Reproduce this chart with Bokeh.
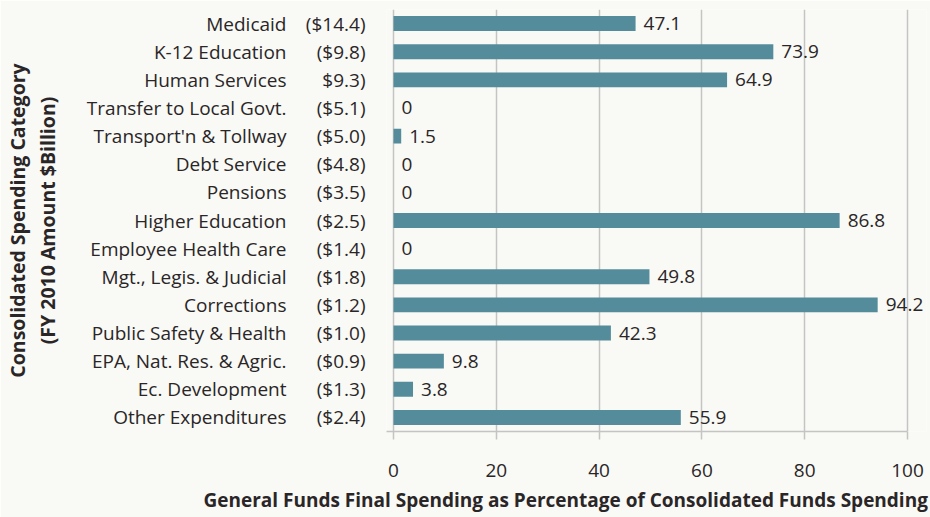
from bokeh.plotting import figure
from bokeh.models import (ColumnDataSource, LabelSet, FactorRange, Range1d, FixedTicker,
                          CategoricalAxis, Title)
from bokeh.core.properties import value
from bokeh.embed import file_html
from bokeh.resources import INLINE

categories = ["Medicaid", "K-12 Education", "Human Services", "Transfer to Local Govt.",
              "Transport'n & Tollway", "Debt Service", "Pensions", "Higher Education",
              "Employee Health Care", "Mgt., Legis. & Judicial", "Corrections",
              "Public Safety & Health", "EPA, Nat. Res. & Agric.", "Ec. Development",
              "Other Expenditures"]
amount_labels = ["($14.4)", "($9.8)", "$9.3)", "($5.1)", "($5.0)", "($4.8)", "($3.5)",
                 "($2.5)", "($1.4)", "($1.8)", "($1.2)", "($1.0)", "($0.9)", "($1.3)",
                 "($2.4)"]
pct_general = [47.1, 73.9, 64.9, 0, 1.5, 0, 0, 86.8, 0, 49.8, 94.2, 42.3, 9.8, 3.8, 55.9]
x_ticks = [0, 20, 40, 60, 80, 100]

BG = "#f9f9f5"
BAR = "#548c9c"
TXT = "#2a2627"
GRID = "#c4c4c4"
FONT = "Open Sans"
FS = "19px"

src = ColumnDataSource(dict(
    cat=categories,
    pct=pct_general,
    pct_txt=[f"{v:g}" for v in pct_general],
))

p = figure(width=930, height=517, output_backend="svg", toolbar_location=None,
           y_range=FactorRange(factors=categories[::-1], range_padding=0),
           x_range=Range1d(-1.36, 103.7), y_axis_location=None)
p.extra_y_ranges = {"amt": FactorRange(factors=amount_labels[::-1], range_padding=0)}
p.min_border_left = 386
p.min_border_right = 4
p.min_border_top = 9
p.min_border_bottom = 82
p.background_fill_color = BG
p.border_fill_color = BG
p.outline_line_color = None

p.hbar(y="cat", right="pct", left=0, height=0.53, source=src, color=BAR, line_color=None)

# x axis
p.xaxis.ticker = FixedTicker(ticks=x_ticks)
p.xaxis.bounds = (-1.36, 100)
p.xaxis.major_tick_out = 8
p.xaxis.major_tick_in = 0
p.xaxis.minor_tick_line_color = None
p.xaxis.axis_line_color = GRID
p.xaxis.axis_line_width = 1.5
p.xaxis.major_tick_line_color = GRID
p.xaxis.major_tick_line_width = 1.5
p.xaxis.major_label_standoff = 24
p.xaxis.major_label_text_font = FONT
p.xaxis.major_label_text_font_size = FS
p.xaxis.major_label_text_color = TXT

p.xgrid.ticker = FixedTicker(ticks=x_ticks)
p.xgrid.grid_line_color = GRID
p.xgrid.grid_line_width = 1.5
p.ygrid.grid_line_color = None

# inner left axis: amounts
amt_axis = CategoricalAxis(y_range_name="amt")
# outer left axis: category names (+ second line of the y title)
name_axis = CategoricalAxis(axis_label="(FY 2010 Amount $Billion)")
for ax, standoff in ((amt_axis, 21), (name_axis, 16)):
    ax.axis_line_color = None
    ax.major_tick_line_color = None
    ax.major_tick_out = 0
    ax.major_tick_in = 0
    ax.major_label_standoff = standoff
    ax.major_label_text_font = FONT
    ax.major_label_text_font_size = FS
    ax.major_label_text_color = TXT
name_axis.axis_label_standoff = 23
name_axis.axis_label_text_font = FONT
name_axis.axis_label_text_font_style = "bold"
name_axis.axis_label_text_font_size = "19.5px"
name_axis.axis_label_text_color = TXT
p.add_layout(amt_axis, "left")
p.add_layout(name_axis, "left")

# y title, first line
p.add_layout(Title(text="Consolidated Spending Category", align="center", text_font=FONT,
                   text_font_style="bold", text_font_size="19.5px", text_color=TXT,
                   standoff=0), "left")

# x title
p.add_layout(Title(text="General Funds Final Spending as Percentage of Consolidated Funds Spending",
                   align="left", offset=-183, text_font=FONT, text_font_style="bold",
                   text_font_size="19px", text_color=TXT, standoff=10), "below")

# bar value labels
p.add_layout(LabelSet(x="pct", y="cat", text="pct_txt", source=src, x_offset=8,
                      text_baseline="middle", text_align="left", text_font=value(FONT),
                      text_font_size=value(FS), text_color=TXT))

open("out.html", "w").write(file_html(p, INLINE))
